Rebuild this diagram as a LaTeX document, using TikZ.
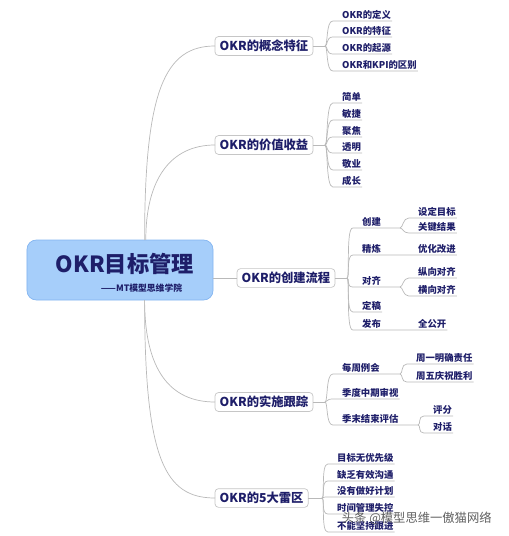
\documentclass[tikz,border=0pt]{standalone}
\usepackage{fontspec}
\newfontfamily\cjk{Noto Sans CJK SC}
\definecolor{navy}{RGB}{30,30,105}
\definecolor{linegray}{RGB}{185,185,185}
\definecolor{rootblue}{RGB}{166,206,250}
\definecolor{rootedge}{RGB}{130,180,240}

\begin{document}
\begin{tikzpicture}[x=0.03cm, y=-0.03cm,
  every node/.style={font=\cjk\bfseries, text=navy, outer sep=0pt},
  conn/.style={draw=linegray, line width=0.6pt},
  root/.style={fill=rootblue, draw=rootedge, rounded corners=8pt, line width=0.6pt, minimum width=5.58cm, minimum height=1.8cm},
  topic/.style={draw=gray!45, fill=white, rounded corners=3pt, line width=0.6pt, inner xsep=4pt, inner ysep=3pt, anchor=west, font=\cjk\bfseries\fontsize{10.5}{12}\selectfont},
  leaf/.style={anchor=south west, inner xsep=1pt, inner ysep=1.5pt, font=\cjk\bfseries\fontsize{8}{9}\selectfont}]
\useasboundingbox (0,0) rectangle (509,536);

\node[root] (root) at (120,270) {};
\node[font=\cjk\bfseries\fontsize{19}{22}\selectfont] (title) at (125,264) {OKR目标管理};
\node[anchor=east, font=\cjk\bfseries\fontsize{7.5}{9}\selectfont] (subtitle) at (186,288) {——MT模型思维学院};

\node[topic] (n1) at (215,46) {OKR的概念特征};
\node[topic] (n2) at (215,145) {OKR的价值收益};
\node[topic] (n3) at (237,278) {OKR的创建流程};
\node[topic] (n4) at (215,402) {OKR的实施跟踪};
\node[topic] (n5) at (215,498) {OKR的5大雷区};

\coordinate (b1) at (325,46);
\coordinate (b2) at (325,145);
\coordinate (b3) at (347,278);
\coordinate (b4) at (325,402);
\coordinate (b5) at (322,498);
\coordinate (bc1) at (400,228);
\coordinate (bc3) at (400,287);
\coordinate (be1) at (400,374);
\coordinate (be3) at (418,425);

% concept
\node[leaf] (a1) at (341,21) {OKR的定义};
\node[leaf] (a2) at (341,37) {OKR的特征};
\node[leaf] (a3) at (341,54) {OKR的起源};
\node[leaf] (a4) at (341,71) {OKR和KPI的区别};

% value
\node[leaf] (v1) at (341,103) {简单};
\node[leaf] (v2) at (341,120) {敏捷};
\node[leaf] (v3) at (341,137) {聚焦};
\node[leaf] (v4) at (341,153) {透明};
\node[leaf] (v5) at (341,170) {敬业};
\node[leaf] (v6) at (341,187) {成长};

% process
\node[leaf] (c1) at (361,228) {创建};
\node[leaf] (c2) at (361,255) {精炼};
\node[leaf] (c3) at (361,287) {对齐};
\node[leaf] (c4) at (361,312) {定稿};
\node[leaf] (c5) at (361,330) {发布};
\node[leaf] (d1) at (417,218) {设定目标};
\node[leaf] (d2) at (417,233) {关键结果};
\node[leaf] (d3) at (417,255) {优化改进};
\node[leaf] (d4) at (417,278) {纵向对齐};
\node[leaf] (d5) at (417,296) {横向对齐};
\node[leaf] (d6) at (417,330) {全公开};

% tracking
\node[leaf] (e1) at (341,374) {每周例会};
\node[leaf] (e2) at (341,399) {季度中期审视};
\node[leaf] (e3) at (341,425) {季末结束评估};
\node[leaf] (f1) at (415,364) {周一明确责任};
\node[leaf] (f2) at (415,382) {周五庆祝胜利};
\node[leaf] (f3) at (432,416) {评分};
\node[leaf] (f4) at (432,433) {对话};

% pitfalls
\node[leaf] (g1) at (336,464) {目标无优先级};
\node[leaf] (g2) at (336,481) {缺乏有效沟通};
\node[leaf] (g3) at (336,497) {没有做好计划};
\node[leaf] (g4) at (336,514) {时间管理失控};
\node[leaf] (g5) at (336,532) {不能坚持跟进};

\draw[conn] ([xshift=21pt]root.north) .. controls +(0,-150) and +(-50,0) .. (n1.west);
\draw[conn] ([xshift=22pt]root.north) .. controls +(0,-60) and +(-45,0) .. (n2.west);
\draw[conn] (n3.west) -- (n3.west -| root.east);
\draw[conn] ([xshift=21pt]root.south) .. controls +(0,70) and +(-45,0) .. (n4.west);
\draw[conn] ([xshift=21pt]root.south) .. controls +(0,160) and +(-50,0) .. (n5.west);

\draw[conn] (n1.east) -- (b1);
\draw[conn] (n2.east) -- (b2);
\draw[conn] (n3.east) -- (b3);
\draw[conn] (n4.east) -- (b4);
\draw[conn] (n5.east) -- (b5);

\foreach \c in {a1,a2,a3,a4}
  \draw[conn] (b1) .. controls +(3,0) and +(-7,0) .. ([xshift=-7pt]\c.south west) -- (\c.south east);
\foreach \c in {v1,v2,v3,v4,v5,v6}
  \draw[conn] (b2) .. controls +(3,0) and +(-7,0) .. ([xshift=-7pt]\c.south west) -- (\c.south east);
\foreach \c in {g1,g2,g3,g4,g5}
  \draw[conn] (b5) .. controls +(3,0) and +(-7,0) .. ([xshift=-7pt]\c.south west) -- (\c.south east);

\draw[conn] (b3) .. controls +(3,0) and +(-7,0) .. ([xshift=-7pt]c1.south west) -- (bc1);
\draw[conn] (b3) .. controls +(3,0) and +(-7,0) .. ([xshift=-7pt]c2.south west) -- (d3.south east);
\draw[conn] (b3) .. controls +(3,0) and +(-7,0) .. ([xshift=-7pt]c3.south west) -- (bc3);
\draw[conn] (b3) .. controls +(3,0) and +(-7,0) .. ([xshift=-7pt]c4.south west) -- (c4.south east);
\draw[conn] (b3) .. controls +(3,0) and +(-7,0) .. ([xshift=-7pt]c5.south west) -- (d6.south east);
\foreach \c in {d1,d2}
  \draw[conn] (bc1) .. controls +(3,0) and +(-6,0) .. ([xshift=-7pt]\c.south west) -- (\c.south east);
\foreach \c in {d4,d5}
  \draw[conn] (bc3) .. controls +(3,0) and +(-6,0) .. ([xshift=-7pt]\c.south west) -- (\c.south east);

\draw[conn] (b4) .. controls +(3,0) and +(-7,0) .. ([xshift=-7pt]e1.south west) -- (be1);
\draw[conn] (b4) .. controls +(3,0) and +(-7,0) .. ([xshift=-7pt]e2.south west) -- (e2.south east);
\draw[conn] (b4) .. controls +(3,0) and +(-7,0) .. ([xshift=-7pt]e3.south west) -- (be3);
\foreach \c in {f1,f2}
  \draw[conn] (be1) .. controls +(3,0) and +(-6,0) .. ([xshift=-7pt]\c.south west) -- (\c.south east);
\foreach \c in {f3,f4}
  \draw[conn] (be3) .. controls +(3,0) and +(-6,0) .. ([xshift=-7pt]\c.south west) -- (\c.south east);

\node[anchor=west, font=\cjk\fontsize{10.5}{12}\selectfont, text=gray!75!black] (mark) at (338,518) {头条 @模型思维一傲猫网络};
\end{tikzpicture}
\end{document}
